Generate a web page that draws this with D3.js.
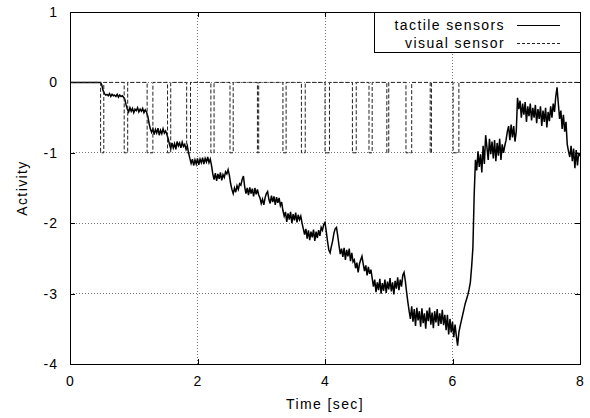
<!DOCTYPE html>
<html>
<head>
<meta charset="utf-8">
<script src="https://cdn.jsdelivr.net/npm/d3@7"></script>
<style>
   body { margin: 0; background: white; }
   text { font-family: 'Liberation Sans', Arial, sans-serif; font-size: 14px; letter-spacing: 1.4px; fill: black; }
</style>
</head>
<body>
<div id="chart"></div>
<script>
// TACTILE SENSOR ACTIVITY, ONE READING EVERY 0.02 SEC FROM 0 TO 8
var tactileStep = 0.02;
var tactile = [
   0, 0, 0, 0, 0, 0, 0, 0, 0, 0, 0, 0, 0, 0, 0, 0, 0, 0, 0, 0, 0, 0, 0, 0, 0,
   -0.04, -0.12, -0.16, -0.18, -0.17, -0.19, -0.16, -0.20, -0.17, -0.19, -0.18, -0.20, -0.17, -0.21, -0.18, -0.20, -0.19, -0.21,
   -0.24, -0.32, -0.38, -0.42, -0.36, -0.41, -0.37, -0.43, -0.38, -0.40, -0.36, -0.42, -0.38, -0.41, -0.37, -0.43, -0.39, -0.42,
   -0.48, -0.58, -0.66, -0.71, -0.66, -0.74, -0.67, -0.72, -0.65, -0.75, -0.68, -0.73, -0.66, -0.72, -0.69, -0.74,
   -0.80, -0.88, -0.94, -0.86, -0.93, -0.87, -0.95, -0.84, -0.90, -0.86, -0.93, -0.85, -0.91, -0.88, -0.95, -0.90,
   -1.00, -1.08, -1.15, -1.09, -1.18, -1.10, -1.16, -1.08, -1.17, -1.09, -1.14, -1.07, -1.16, -1.08, -1.13, -1.06, -1.14, -1.09,
   -1.18, -1.30, -1.38, -1.29, -1.40, -1.30, -1.37, -1.28, -1.39, -1.31, -1.35, -1.27, -1.30, -1.24,
   -1.32, -1.44, -1.52, -1.58, -1.50, -1.56, -1.47, -1.52, -1.44, -1.46, -1.38, -1.33,
   -1.48, -1.58, -1.50, -1.60, -1.49, -1.58, -1.51, -1.62, -1.50, -1.59, -1.52, -1.60,
   -1.64, -1.72, -1.66, -1.74, -1.64, -1.58, -1.55, -1.66, -1.72, -1.61, -1.70, -1.62, -1.74, -1.63, -1.71, -1.64, -1.75, -1.70,
   -1.82, -1.90, -1.84, -1.98, -1.86, -1.95, -1.84, -2.00, -1.87, -1.96, -1.85, -1.99, -1.88, -1.95, -1.90, -2.00,
   -2.08, -2.16, -2.08, -2.22, -2.10, -2.24, -2.12, -2.20, -2.09, -2.25, -2.12, -2.21, -2.10, -2.18, -2.06, -2.10, -2.02, -1.99,
   -2.12, -2.26, -2.38, -2.42, -2.33, -2.25, -2.14, -2.08, -2.06, -2.18, -2.32,
   -2.44, -2.36, -2.48, -2.35, -2.52, -2.38, -2.47, -2.36, -2.54, -2.42, -2.55,
   -2.52, -2.64, -2.56, -2.70, -2.58, -2.52, -2.47, -2.58, -2.68, -2.60, -2.74, -2.62, -2.72, -2.66,
   -2.78, -2.90, -2.80, -2.98, -2.84, -2.95, -2.79, -3.00, -2.85, -2.96, -2.80, -2.99, -2.83, -2.94,
   -2.78, -2.97, -2.84, -3.01, -2.82, -2.93, -2.77, -2.95, -2.80, -2.90, -2.74, -2.70, -2.82, -2.98,
   -3.12, -3.25, -3.36, -3.18, -3.40, -3.22, -3.46, -3.20, -3.38, -3.25, -3.47, -3.21, -3.42, -3.28, -3.50,
   -3.24, -3.39, -3.20, -3.44, -3.27, -3.49, -3.25, -3.41, -3.22, -3.46, -3.28, -3.43, -3.23, -3.45, -3.30,
   -3.52, -3.30, -3.58, -3.36, -3.55, -3.40, -3.62, -3.44, -3.60, -3.74, -3.55,
   -3.46, -3.38, -3.30, -3.22, -3.14, -3.08, -3.02, -2.94, -2.84, -2.62, -2.35,
   -1.60, -1.10, -1.25, -0.98, -1.20, -1.02, -1.28, -0.90, -1.16, -0.75, -0.92, -1.10, -0.80,
   -1.02, -0.84, -1.08, -0.82, -1.12, -0.86, -1.04, -0.80, -1.10, -0.88, -1.00, -0.90, -0.82,
   -0.70, -0.62, -0.82, -0.60, -0.78, -0.62, -0.84, -0.70,
   -0.22, -0.38, -0.26, -0.50, -0.30, -0.46, -0.28, -0.56, -0.34, -0.48, -0.30, -0.54, -0.36, -0.50, -0.32, -0.58,
   -0.38, -0.52, -0.34, -0.62, -0.40, -0.56, -0.36, -0.64, -0.42, -0.55, -0.34, -0.50, -0.30, -0.42, -0.20, -0.07,
   -0.30, -0.52, -0.40, -0.66, -0.46, -0.70, -0.56, -0.88, -0.98, -1.06, -0.90, -1.12, -0.94, -1.22, -0.96, -1.18, -1.00, -1.05
];

// VISUAL SENSOR PULSES (SEC): DROPS TO -1 AT ON, BACK TO 0 AT OFF
var visualOn  = [0.48, 0.85, 1.21, 1.53, 1.83, 2.21, 2.51, 2.94, 3.34, 3.63, 4.00, 4.43, 4.69, 4.97, 5.27, 5.65, 6.01];
var visualOff = [0.53, 0.905, 1.30, 1.58, 1.89, 2.26, 2.56, 2.96, 3.39, 3.69, 4.07, 4.49, 4.74, 5.00, 5.36, 5.67, 6.10];

// AXIS TICKS AND LABELS
var xTicks = [0, 2, 4, 6, 8];
var yTicks = [1, 0, -1, -2, -3, -4];
var seriesNames = ['tactile sensors', 'visual sensor'];

// SETTINGS OBJECT
var settings = {
   width: 590,
   height: 418,
   margin: { top: 12, right: 10, bottom: 54, left: 70 },
   tick: 5
};
var w = settings.width - settings.margin.left - settings.margin.right;
var h = settings.height - settings.margin.top - settings.margin.bottom;

// SCALES
var xScale = d3.scaleLinear().domain([0, 8]).range([0, w]);
var yScale = d3.scaleLinear().domain([-4, 1]).range([h, 0]);

// BUILD XY PAIRS
var tactilePoints = tactile.map((v, i) => [i * tactileStep, v]);
var visualPoints = [[0, 0]];
for (var p = 0; p < visualOn.length; p++) {
   visualPoints.push([visualOn[p], 0], [visualOn[p], -1], [visualOff[p], -1], [visualOff[p], 0]);
}
visualPoints.push([8, 0]);

var pathify = d3.line()
   .x((d) => xScale(d[0]))
   .y((d) => yScale(d[1]));

// PLAIN HYPHEN FOR NEGATIVE LABELS
var plain = (d) => String(d);

// GENERATE CANVAS
var svg = d3.select('#chart').append('svg')
   .attr('width', settings.width)
   .attr('height', settings.height);

svg.append('rect')
   .attr('width', settings.width)
   .attr('height', settings.height)
   .attr('fill', 'white');

var g = svg.append('g')
   .attr('transform', 'translate(' + settings.margin.left + ',' + settings.margin.top + ')');

// GRID LINES
g.selectAll('.xgrid').data(xTicks.slice(1, -1)).enter()
   .append('line')
   .attr('x1', (d) => xScale(d)).attr('x2', (d) => xScale(d))
   .attr('y1', 0).attr('y2', h)
   .attr('stroke', '#777').attr('stroke-width', 1)
   .attr('stroke-dasharray', '1,2')
   .attr('shape-rendering', 'crispEdges');

g.selectAll('.ygrid').data(yTicks.slice(1, -1)).enter()
   .append('line')
   .attr('x1', 0).attr('x2', w)
   .attr('y1', (d) => yScale(d)).attr('y2', (d) => yScale(d))
   .attr('stroke', '#777').attr('stroke-width', 1)
   .attr('stroke-dasharray', '1,2')
   .attr('shape-rendering', 'crispEdges');

// AXES WITH INWARD TICKS, MIRRORED ON TOP AND RIGHT
g.append('g')
   .attr('transform', 'translate(0,' + h + ')')
   .call(d3.axisBottom(xScale).tickValues(xTicks).tickSizeInner(-settings.tick).tickSizeOuter(0).tickPadding(12).tickFormat(plain));
g.append('g')
   .call(d3.axisTop(xScale).tickValues(xTicks).tickSizeInner(-settings.tick).tickSizeOuter(0).tickFormat(''));
g.append('g')
   .call(d3.axisLeft(yScale).tickValues(yTicks).tickSizeInner(-settings.tick).tickSizeOuter(0).tickPadding(12).tickFormat(plain));
g.append('g')
   .attr('transform', 'translate(' + w + ',0)')
   .call(d3.axisRight(yScale).tickValues(yTicks).tickSizeInner(-settings.tick).tickSizeOuter(0).tickFormat(''));

g.selectAll('.domain').remove();
g.selectAll('.tick line').attr('stroke', 'black').attr('shape-rendering', 'crispEdges');
g.selectAll('.tick text')
   .style('font-family', "'Liberation Sans', Arial, sans-serif")
   .style('font-size', '14px')
   .style('letter-spacing', '1px');

// DATA LINES
g.append('path')
   .attr('d', pathify(tactilePoints))
   .attr('fill', 'none')
   .attr('stroke', 'black')
   .attr('stroke-width', 1.5)
   .attr('stroke-linejoin', 'miter');

g.append('path')
   .attr('d', pathify(visualPoints))
   .attr('fill', 'none')
   .attr('stroke', '#222')
   .attr('stroke-width', 1)
   .attr('stroke-dasharray', '4,2');

// BORDER
g.append('rect')
   .attr('x', 0.5).attr('y', 0.5)
   .attr('width', w).attr('height', h)
   .attr('fill', 'none')
   .attr('stroke', 'black')
   .attr('stroke-width', 1)
   .attr('shape-rendering', 'crispEdges');

// LEGEND
var legend = g.append('g');
legend.append('rect')
   .attr('x', 304).attr('y', 0.5)
   .attr('width', w - 304).attr('height', 40)
   .attr('fill', 'white')
   .attr('stroke', 'black')
   .attr('stroke-width', 1)
   .attr('shape-rendering', 'crispEdges');

legend.selectAll('text').data(seriesNames).enter()
   .append('text')
   .attr('x', 435)
   .attr('y', (d, i) => 18 + i * 18)
   .attr('text-anchor', 'end')
   .text((d) => d);

legend.append('line')
   .attr('x1', 447).attr('x2', 490)
   .attr('y1', 13.5).attr('y2', 13.5)
   .attr('stroke', 'black');
legend.append('line')
   .attr('x1', 447).attr('x2', 490)
   .attr('y1', 31.5).attr('y2', 31.5)
   .attr('stroke', '#222')
   .attr('stroke-dasharray', '3,2');

// AXIS TITLES
svg.append('text')
   .attr('x', settings.margin.left + w / 2)
   .attr('y', 409)
   .attr('text-anchor', 'middle')
   .text('Time [sec]');

svg.append('text')
   .attr('transform', 'translate(27,' + (settings.margin.top + h / 2) + ') rotate(-90)')
   .attr('text-anchor', 'middle')
   .text('Activity');
</script>
</body>
</html>
